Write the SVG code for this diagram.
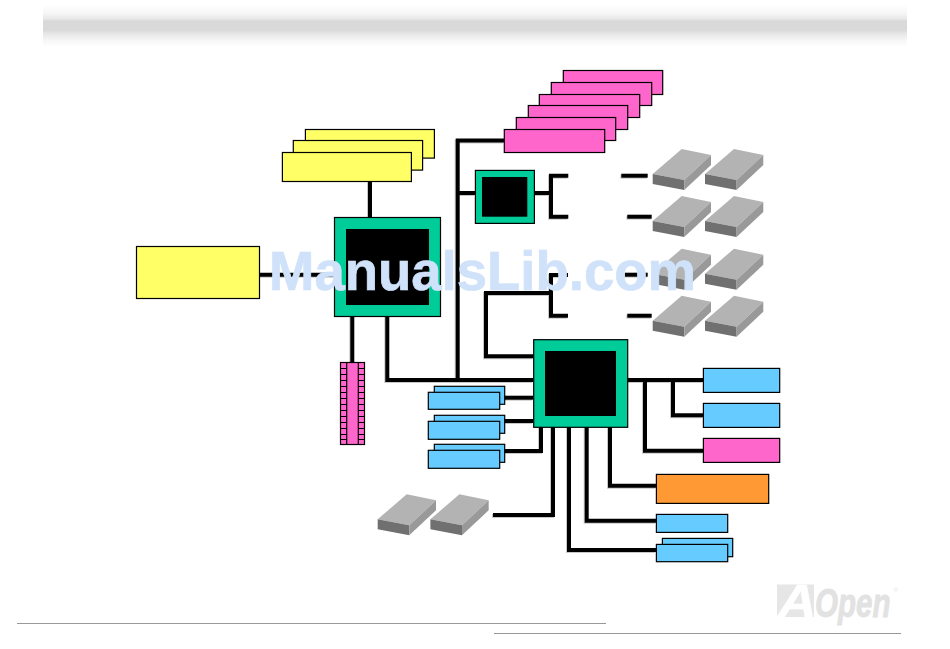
<svg xmlns="http://www.w3.org/2000/svg" xmlns:xlink="http://www.w3.org/1999/xlink" width="950" height="649" viewBox="0 0 950 649">
<style>
.b{stroke:#000;stroke-width:1.2}
.y{fill:#ffff66}.p{fill:#ff66cc}.l{fill:#66ccff}.o{fill:#ff9933}.g{fill:#00cc99}.k{fill:#000}
#wires path{fill:none;stroke-linejoin:round;stroke-linecap:butt}
</style>
<defs>
<linearGradient id="hdr" x1="0" y1="0" x2="0" y2="1">
<stop offset="0" stop-color="#fff"/><stop offset=".2" stop-color="#f6f6f6"/><stop offset=".33" stop-color="#e8e8e8"/><stop offset=".38" stop-color="#d9d9d9"/><stop offset=".6" stop-color="#d9d9d9"/><stop offset=".68" stop-color="#e6e6e6"/><stop offset=".84" stop-color="#f6f6f6"/><stop offset="1" stop-color="#fff"/>
</linearGradient>
<g id="drive">
<path fill="#b3b3b3" d="M652.7 174L681.7 149L711 155L684.3 180Z"/>
<path fill="#707070" d="M652.7 174L684.3 180V190L652.7 184Z"/>
<path fill="#999" d="M684.3 180L711 155V165L684.3 190Z"/>
</g>
<g id="wireset">
<path d="M370 181V217"/>
<path d="M259 274.7H334"/>
<path d="M352.3 316V362"/>
<path d="M387.3 316V380H533"/>
<path d="M504 140.5H457.7V380"/>
<path d="M458 193H475"/>
<path d="M534 193H551"/>
<path d="M568.3 175.7H551V216.7H568.3"/>
<path d="M621.3 175.7H647.7"/>
<path d="M627.3 216.7H651.7"/>
<path d="M568 275H551V315.7H568"/>
<path d="M625 274.7H647.7"/>
<path d="M627.3 315.7H651.7"/>
<path d="M533.5 356.3H486V293H551"/>
<path d="M627 380H703"/>
<path d="M673 380V415.3H703"/>
<path d="M645 380V450.7H703"/>
<path d="M504 397.7H533"/>
<path d="M504 421H533"/>
<path d="M504 451H541V427"/>
<path d="M553 427V515H493"/>
<path d="M569 427V550H656"/>
<path d="M586.7 427V520.7H656"/>
<path d="M610 427V485.7H656"/>
</g>
</defs>
<rect width="950" height="649" fill="#fff"/>
<rect id="header" x="43" y="5" width="864" height="42" fill="url(#hdr)"/>
<g id="connectors">
<g id="wires-shadow" transform="translate(-1 1)" fill="none" stroke="#c8c8c8" stroke-width="4"><use href="#wireset" xlink:href="#wireset"/></g>
<g id="wires" fill="none" stroke="#000" stroke-width="4"><use href="#wireset" xlink:href="#wireset"/></g>
</g>
<g id="fsb-slots">
<rect class="y b" x="305.4" y="129.5" width="129" height="28.6"/>
<rect class="y b" x="293.3" y="140.5" width="129.3" height="29.6"/>
<rect class="y b" x="282.4" y="152.5" width="129" height="29"/>
</g>
<g id="agp"><rect class="y b" x="136.5" y="246.5" width="123" height="52"/></g>
<g id="northbridge">
<rect class="g b" x="334.5" y="217.5" width="106" height="99"/>
<rect class="k" x="346" y="229" width="83" height="76"/>
</g>
<g id="memory">
<rect class="p b" x="340.5" y="362.5" width="24" height="82"/>
<path class="b" fill="none" d="M346.7 362.5V444.5M358.3 362.5V444.5M340.5 368.5H346.7M358.3 368.5H364.5M340.5 374.5H346.7M358.3 374.5H364.5M340.5 380.5H346.7M358.3 380.5H364.5M340.5 386.5H346.7M358.3 386.5H364.5M340.5 392.5H346.7M358.3 392.5H364.5M340.5 398.5H346.7M358.3 398.5H364.5M340.5 404.5H346.7M358.3 404.5H364.5M340.5 410.5H346.7M358.3 410.5H364.5M340.5 416.5H346.7M358.3 416.5H364.5M340.5 422.5H346.7M358.3 422.5H364.5M340.5 428.5H346.7M358.3 428.5H364.5M340.5 434.5H346.7M358.3 434.5H364.5M340.5 439.5H346.7M358.3 439.5H364.5"/>
</g>
<g id="pci-slots">
<rect class="p b" x="563.3" y="70.5" width="99.4" height="24"/>
<rect class="p b" x="551.3" y="82.5" width="100.4" height="23"/>
<rect class="p b" x="539.3" y="94.5" width="100.4" height="23"/>
<rect class="p b" x="528.3" y="105.5" width="99.4" height="24"/>
<rect class="p b" x="516.3" y="117.5" width="99.4" height="23"/>
<rect class="p b" x="504.3" y="129.5" width="100.4" height="23"/>
</g>
<g id="ide-controller">
<rect class="g b" x="475.4" y="170.4" width="59" height="53"/>
<rect class="k" x="482" y="177" width="45.3" height="39.7"/>
</g>
<g id="drives-right">
<use href="#drive" xlink:href="#drive"/>
<use href="#drive" xlink:href="#drive" x="52.3"/>
<use href="#drive" xlink:href="#drive" y="47"/>
<use href="#drive" xlink:href="#drive" x="52.3" y="47"/>
<use href="#drive" xlink:href="#drive" y="99.7"/>
<use href="#drive" xlink:href="#drive" x="52.3" y="99.7"/>
<use href="#drive" xlink:href="#drive" y="146.7"/>
<use href="#drive" xlink:href="#drive" x="52.3" y="146.7"/>
</g>
<g id="drives-lower">
<use href="#drive" xlink:href="#drive" x="-275" y="345.3"/>
<use href="#drive" xlink:href="#drive" x="-222.3" y="345.3"/>
</g>
<g id="southbridge">
<rect class="g b" x="533.7" y="339.7" width="94" height="87.6"/>
<rect class="k" x="545" y="351" width="71" height="65"/>
</g>
<g id="usb-1">
<rect class="l b" x="434.3" y="386.3" width="70.4" height="18"/>
<rect class="l b" x="428.3" y="392.3" width="71.4" height="17"/>
</g>
<g id="usb-2">
<rect class="l b" x="434.3" y="415.3" width="70.4" height="18"/>
<rect class="l b" x="428.3" y="421.3" width="71.4" height="18"/>
</g>
<g id="usb-3">
<rect class="l b" x="434.3" y="444.3" width="70.4" height="18"/>
<rect class="l b" x="428.3" y="450.3" width="71.4" height="18"/>
</g>
<g id="right-blue-1"><rect class="l b" x="703.4" y="368.4" width="76.3" height="24"/></g>
<g id="right-blue-2"><rect class="l b" x="703.4" y="403.4" width="76.3" height="24"/></g>
<g id="right-pink"><rect class="p b" x="703.4" y="438.4" width="76.3" height="24"/></g>
<g id="right-orange"><rect class="o b" x="656.4" y="474.4" width="112.3" height="29"/></g>
<g id="right-blue-3"><rect class="l b" x="656.4" y="514.4" width="71.3" height="18"/></g>
<g id="right-blue-4">
<rect class="l b" x="662.4" y="538.4" width="70.3" height="18.3"/>
<rect class="l b" x="656.4" y="544.4" width="71.3" height="17.3"/>
</g>
<text id="watermark" x="269" y="290" font-family="'Liberation Sans',Arial,sans-serif" font-weight="700" font-size="55.5" fill="#cfe2fa" stroke="#cfe2fa" stroke-width=".7" textLength="427" lengthAdjust="spacingAndGlyphs">ManualsLib.com</text>
<g id="footer-lines" fill="#999">
<rect x="17" y="623" width="589" height="1"/>
<rect x="494" y="633" width="407" height="1"/>
</g>
<g id="logo" font-family="'Liberation Sans',Arial,sans-serif" font-weight="700" font-style="italic">
<rect x="777" y="584.5" width="37" height="32.5" fill="#e6e6e6"/>
<text transform="translate(778 617) scale(1.16 1)" font-size="46" fill="#fff" stroke="#fff" stroke-width=".5">A</text>
<text transform="translate(815 617) scale(.74 1)" font-size="40" fill="#e2e2e2" stroke="#e2e2e2" stroke-width=".8">Open</text>
<text x="893.5" y="592" font-size="6" font-weight="400" font-style="normal" fill="#e6e6e6">®</text>
</g>
</svg>
